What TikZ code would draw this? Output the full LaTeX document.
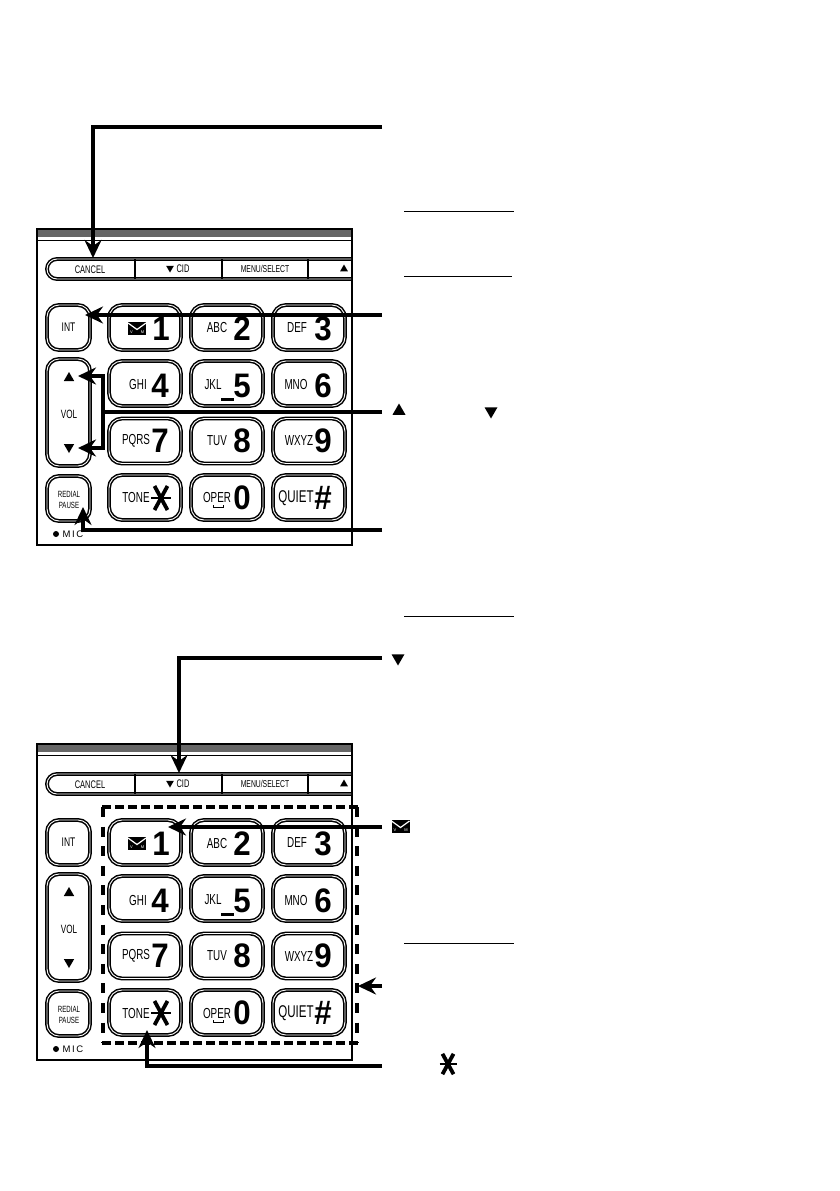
\documentclass[tikz,border=0pt]{standalone}
\usepackage{fontspec}
\setmainfont{Liberation Sans}
\newfontfamily\narrowfont[FakeStretch=0.68]{Liberation Sans}
\newfontfamily\digitfont[FakeStretch=0.92]{Liberation Sans}
\usetikzlibrary{arrows.meta,shapes.geometric}
\tikzset{
  keybtn/.style={draw,rounded corners=13pt,line width=1.5pt,double=white,double distance=0.9pt,inner sep=0pt,minimum width=72pt,minimum height=45pt},
  sidebtn/.style={keybtn,rounded corners=12pt,minimum width=43pt},
  lbl/.style={font=\narrowfont\fontsize{14.5}{14.5}\selectfont,inner sep=0pt},
  softlbl/.style={font=\narrowfont\fontsize{11}{11}\selectfont,inner sep=0pt},
  digit/.style={font=\digitfont\bfseries\fontsize{34}{34}\selectfont,inner sep=0pt},
  triup/.style={regular polygon,regular polygon sides=3,fill=black,inner sep=0pt,minimum size=#1},
  tridown/.style={triup=#1,shape border rotate=180},
  arr/.style={line width=3.2pt,-{Stealth[length=18pt,width=17pt,inset=6pt]}},
  thinrule/.style={line width=0.9pt},
  mailicon/.pic={
    \fill (-9,-6.5) rectangle (9,6.5);
    \draw[white,line width=1.2pt] (-9,-5.5) -- (0,1) -- (9,-5.5);
    \node[white,inner sep=0pt,font=\fontsize{4}{4}\selectfont] (-v) at (-5.5,3.5) {V};
    \node[white,inner sep=0pt,font=\fontsize{4}{4}\selectfont] (-m) at (5.5,3.5) {M};
  },
  starmark/.pic={
    \draw[line width=3.8pt] (-6.5,-12) -- (6.5,12) (6.5,-12) -- (-6.5,12);
    \draw[line width=2.2pt] (-10,0) -- (10,0);
  },
  keypad/.pic={
    \fill[black!60] (37,229) rectangle (352,237);
    \draw[line width=1.8pt] (37,229) rectangle (352,545);
    \draw[line width=0.8pt] (37,240) -- (352,240);
    % soft keys
    \draw[line width=1.5pt,double=white,double distance=0.9pt,rounded corners=10pt] (351,259) -- (47,259) -- (47,279) -- (351,279);
    \draw[line width=1.8pt] (135,259) -- (135,279) (222,259) -- (222,279) (308,259) -- (308,279);
    \node[softlbl] (-cancel) at (90,270) {CANCEL};
    \node[tridown=9pt] (-cidtri) at (170,268) {};
    \node[softlbl] (-cid) at (183,269) {CID};
    \node[softlbl,font=\narrowfont\fontsize{10}{10}\selectfont] (-menu) at (265,269) {MENU/SELECT};
    \node[triup=9pt] (-uptri) at (344,269) {};
    % side keys
    \node[sidebtn] (-int) at (68.5,327.5) {};
    \node[softlbl] at (-int) {\fontsize{12.5}{12.5}\selectfont INT};
    \node[sidebtn,minimum height=107pt] (-vol) at (68.5,412.5) {};
    \node[triup=12pt] (-volup) at (69,378) {};
    \node[tridown=12pt] (-voldown) at (69,447) {};
    \node[softlbl,font=\narrowfont\fontsize{12}{12}\selectfont] (-vollbl) at (69,414) {VOL};
    \node[sidebtn] (-redial) at (68.5,498.5) {};
    \node[softlbl,font=\narrowfont\fontsize{9}{9}\selectfont,align=center] (-redialbl) at (69,500) {REDIAL\\[1.5pt]PAUSE};
    \fill (56,534) circle (3pt);
    \node[softlbl,font=\fontsize{9.5}{9.5}\selectfont] (-mic) at (73,534.5) {M\,I\,C};
    % number keys
    \node[keybtn] (-k1) at (145,327.5) {};
    \node[keybtn] (-k2) at (227,327.5) {};
    \node[keybtn] (-k3) at (309,327.5) {};
    \node[keybtn] (-k4) at (145,383.5) {};
    \node[keybtn] (-k5) at (227,383.5) {};
    \node[keybtn] (-k6) at (309,383.5) {};
    \node[keybtn] (-k7) at (145,441) {};
    \node[keybtn] (-k8) at (227,441) {};
    \node[keybtn] (-k9) at (309,441) {};
    \node[keybtn] (-kstar) at (145,497.5) {};
    \node[keybtn] (-k0) at (227,497.5) {};
    \node[keybtn] (-khash) at (309,497.5) {};
    \pic at (137,328.5) {mailicon};
    \node[digit] at (161,329) {1};
    \node[lbl] at (217,328) {ABC};
    \node[digit] at (242,329) {2};
    \node[lbl] at (297,328) {DEF};
    \node[digit] at (323,329) {3};
    \node[lbl] at (138,385) {GHI};
    \node[digit] at (160,386) {4};
    \node[lbl] at (213,385) {JKL};
    \node[digit] at (242,386) {5};
    \fill (221,398) rectangle (234,401);
    \node[lbl] at (296,385) {MNO};
    \node[digit] at (323,386) {6};
    \node[lbl] at (136,441) {PQRS};
    \node[digit] at (160,441) {7};
    \node[lbl] at (217,441) {TUV};
    \node[digit] at (242,441) {8};
    \node[lbl] at (299,441) {WXYZ};
    \node[digit] at (323,441) {9};
    \node[lbl] at (136,498) {TONE};
    \pic at (161,498) {starmark};
    \node[lbl] at (217,498) {OPER};
    \draw[line width=0.7pt] (213,505) -- (213,507) -- (223,507) -- (223,505);
    \node[digit] at (242,498) {0};
    \node[lbl,font=\narrowfont\fontsize{17}{17}\selectfont] at (296,498) {QUIET};
    \node[digit] at (323,498) {\#};
  }
}
\begin{document}
\begin{tikzpicture}[x=1pt,y=-1pt]
  \useasboundingbox (0,0) rectangle (839,1191);

  \pic (top) at (0,0) {keypad};
  \pic (low) at (0,515) {keypad};

  % dashed frame round the number keys
  \draw[line width=3.6pt,dash pattern=on 9pt off 4pt] (102,807) -- (359,807);
  \draw[line width=3.6pt,dash pattern=on 9pt off 4pt] (102,1043) -- (359,1043);
  \draw[line width=3.6pt,dash pattern=on 10pt off 9.6pt] (103,807) -- (103,1043);
  \draw[line width=3.6pt,dash pattern=on 10pt off 9.6pt] (357,807) -- (357,1043);

  % free ends on the right
  \coordinate (c1) at (382,127);
  \coordinate (c2) at (382,315);
  \coordinate (c3) at (382,412);
  \coordinate (c4) at (382,530);
  \coordinate (c5) at (382,658);
  \coordinate (c6) at (382,827);
  \coordinate (c7) at (382,986);
  \coordinate (c8) at (382,1066);
  \coordinate (volbar) at (103,412);

  % tips
  \coordinate (tipcancel) at (93,258);
  \coordinate (tipint) at (85,315);
  \coordinate (tipup) at (78,376);
  \coordinate (tipdown) at (78,448);
  \coordinate (tipredial) at (83,507);
  \coordinate (tipcid) at (179,773);
  \coordinate (tipone) at (168,827);
  \coordinate (tipframe) at (358,986);
  \coordinate (tiptone) at (147,1030);

  \draw[arr,line width=3.8pt] (c1) -| (tipcancel);
  \draw[arr] (c2) -- (tipint);
  \draw[line width=3.2pt] (c3) -- (volbar);
  \draw[arr] (volbar) |- (tipup);
  \draw[arr] (volbar) |- (tipdown);
  \draw[arr] (c4) -| (tipredial);
  \draw[arr] (c5) -| (tipcid);
  \draw[arr] (c6) -- (tipone);
  \draw[arr] (c7) -- (tipframe);
  \draw[arr] (c8) -| (tiptone);

  % markers beside the free ends
  \node[triup=15pt] (markup) at (399,411) {};
  \node[tridown=15pt] (markdown) at (491,411) {};
  \node[tridown=15pt] (markcid) at (398,658) {};
  \pic (markmail) at (400.5,826.5) {mailicon};
  \pic[scale=0.85] (markstar) at (448,1064) {starmark};

  % rules
  \draw[thinrule] (404,211) -- (514,211);
  \draw[thinrule] (404,276) -- (512,276);
  \draw[thinrule] (404,616) -- (514,616);
  \draw[thinrule] (404,943) -- (514,943);
\end{tikzpicture}
\end{document}
